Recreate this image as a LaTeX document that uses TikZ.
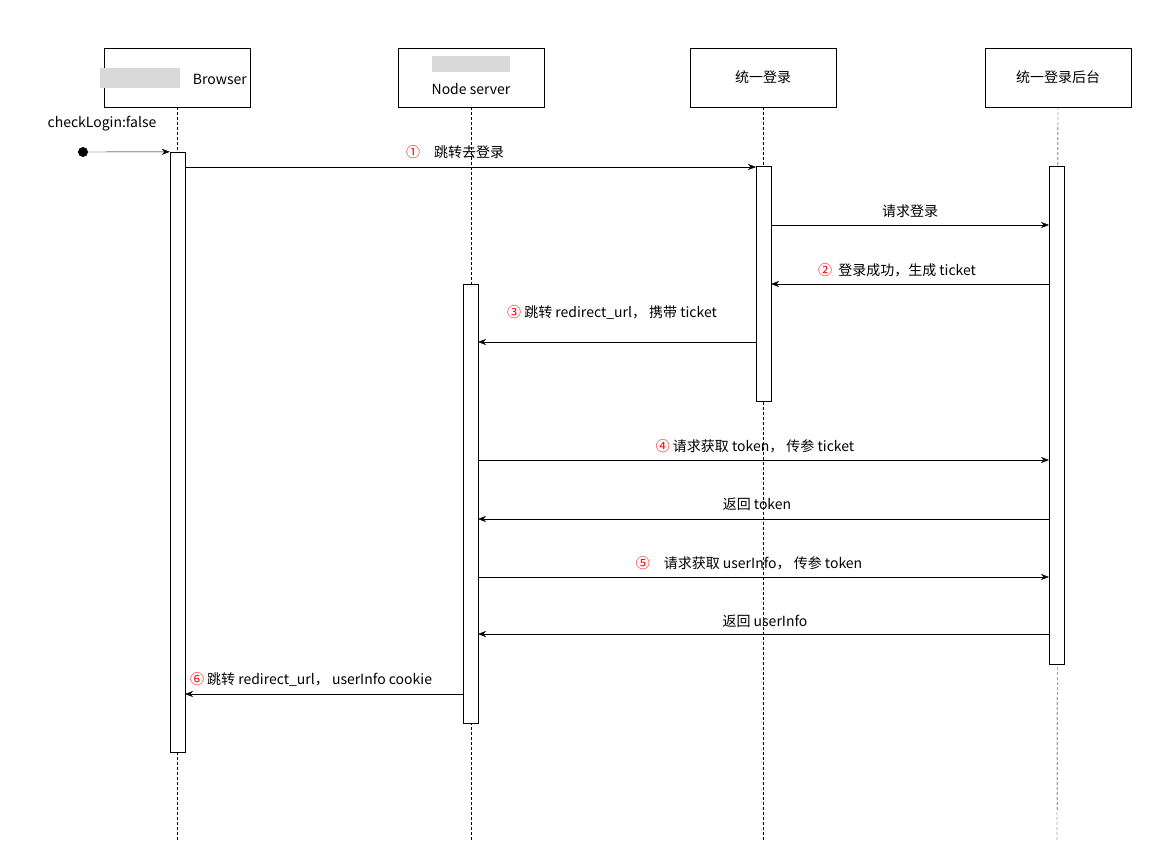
\documentclass[tikz,border=0pt]{standalone}
\usepackage{fontspec}
\setmainfont{Liberation Sans}
\newfontfamily\cjk{Noto Sans CJK SC}
\usetikzlibrary{arrows.meta}
\tikzstyle{head}=[draw,minimum width=146pt,minimum height=59pt,inner sep=0pt]
\tikzstyle{bar}=[draw,fill=white,minimum width=15pt,inner sep=0pt]
\tikzstyle{life}=[densely dashed,thin]
\tikzstyle{msg}=[-{Stealth[length=8pt,width=6pt]},thin]
\tikzstyle{lbl}=[font=\fontsize{14}{16}\selectfont\cjk,inner sep=1pt]
\def\num#1{\textcolor{red}{#1}}

\begin{document}
\begin{tikzpicture}[x=1pt,y=-1pt]
\useasboundingbox (0,0) rectangle (1157,857);
% heads
\node[head] (br) at (177,77.5) {};
\node[lbl,anchor=east] at (248,79) {Browser};
\fill[gray!30] (100,68) rectangle (180,88);
\node[head] (ns) at (471,77.5) {};
\fill[gray!30] (432,56) rectangle (510,72);
\node[lbl] at (471,89) {Node server};
\node[head,lbl] (sso) at (763,77.5) {统一登录};
\node[head,lbl] (ssb) at (1058,77.5) {统一登录后台};

% lifelines
\coordinate (br_e) at (177,840);
\coordinate (ns_e) at (471,840);
\coordinate (sso_e) at (763,840);
\coordinate (ssb_e) at (1057,840);
\draw[life] (br) -- (br_e);
\draw[life] (ns) -- (ns_e);
\draw[life] (sso) -- (sso_e);
\draw[life] (ssb) -- (ssb_e);

% activations
\node[bar,minimum height=600pt] (brA) at (177.5,452) {};
\node[bar,minimum height=439pt] (nsA) at (470.5,503.5) {};
\node[bar,minimum height=235pt] (ssoA) at (763.5,283.5) {};
\node[bar,minimum height=498pt] (ssbA) at (1056.5,415) {};

% messages
\fill (83,152) circle (5pt) coordinate (st);
\draw[msg] (st) -- (brA.north west);
\node[lbl] at (102,124) {checkLogin:false};

\draw[msg] (185,167) -- (756,167);
\node[lbl] at (455,152) {\num{①}\quad 跳转去登录};
\draw[msg] (771,225) -- (1049,225);
\node[lbl] at (910,211) {请求登录};
\draw[msg] (1049,284) -- (771,284);
\node[lbl] at (897,270) {\num{②}\ \ 登录成功，生成 ticket};
\draw[msg] (756,342) -- (478,342);
\node[lbl] at (612,313) {\num{③} 跳转 redirect\_url， 携带 ticket};
\draw[msg] (478,460) -- (1049,460);
\node[lbl] at (755,446) {\num{④} 请求获取 token， 传参 ticket};
\draw[msg] (1049,519) -- (478,519);
\node[lbl] at (757,504) {返回 token};
\draw[msg] (478,577) -- (1049,577);
\node[lbl] at (749,563) {\num{⑤}\quad 请求获取 userInfo， 传参 token};
\draw[msg] (1049,634) -- (478,634);
\node[lbl] at (765,621) {返回 userInfo};
\draw[msg] (463,694) -- (185,694);
\node[lbl] at (311,680) {\num{⑥} 跳转 redirect\_url， userInfo cookie};
\end{tikzpicture}
\end{document}
